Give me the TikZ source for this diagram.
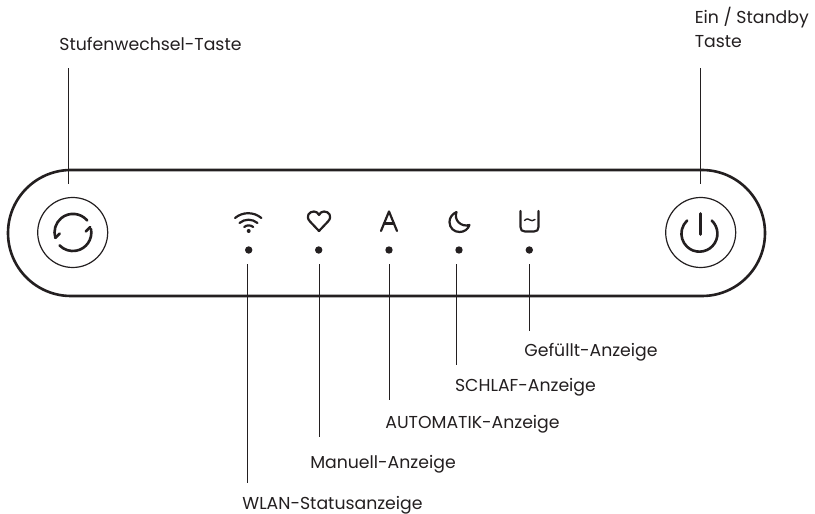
\documentclass[tikz,border=0pt]{standalone}
\usepackage{fontspec}
\usetikzlibrary{calc}
\setmainfont{Poppins}
\definecolor{ink}{HTML}{231F20}
\begin{document}
\begin{tikzpicture}[
  x=0.25mm, y=-0.25mm,
  color=ink,
  line cap=butt, line join=round,
  panel/.style={line width=0.65mm},
  ring/.style={line width=0.3mm},
  leader/.style={line width=0.25mm},
  icon/.style={line width=0.65mm, line cap=round},
  thinicon/.style={line width=0.55mm, line cap=round},
  led/.style={circle, fill=ink, inner sep=0pt, minimum size=1.85mm},
  every node/.style={inner sep=0pt, text=ink, font=\fontsize{12.3pt}{14pt}\selectfont}
]
  \useasboundingbox (0,0) rectangle (815,514);
  % ---- panel ----
  \draw[panel] (71,170) -- (702,170) arc[start angle=-90, end angle=90, radius=63]
    -- (71,296) arc[start angle=90, end angle=270, radius=63] -- cycle;
  % ---- buttons ----
  \coordinate (cycle) at (72.7,232.5);
  \coordinate (power) at (700.7,232.5);
  \draw[ring] (cycle) circle[radius=35];
  \draw[ring] (power) circle[radius=35];
  % ---- cycle symbol ----
  \draw[icon] ($(cycle)+(14.5,-12)$) arc[start angle=-40, end angle=-197, radius=18.5];
  \draw[icon] ($(cycle)+(18.3,-3.5)$) arc[start angle=-11, end angle=136, radius=18.5];
  \draw[icon] ($(cycle)+(-17.5,5.5)$) -- ($(cycle)+(-13,1)$);
  \draw[icon] ($(cycle)+(17.5,-5.5)$) -- ($(cycle)+(13,-1)$);
  % ---- power symbol ----
  \draw[icon] ($(power)+(11,-12)$) arc[start angle=-47, end angle=227, radius=18];
  \draw[icon] (700.7,213.5) -- (700.7,234.5);
  % ---- wifi symbol ----
  \draw[thinicon] (235,218) arc[start angle=-130, end angle=-50, radius=20.5];
  \draw[thinicon] (239.5,223) arc[start angle=-130, end angle=-50, radius=14];
  \draw[thinicon] (244.2,227) arc[start angle=-130, end angle=-50, radius=7];
  \fill (248.7,231) circle[radius=2];
  % ---- heart symbol ----
  \draw[thinicon] (319,231) -- (310,221.5) .. controls (305,216) and (309.5,211.5) .. (314,211.5)
    .. controls (316.5,211.5) and (318,213) .. (319,215)
    .. controls (320,213) and (321.5,211.5) .. (324,211.5)
    .. controls (328.5,211.5) and (333,216) .. (328,221.5) -- cycle;
  % ---- automatic symbol ----
  \draw[thinicon] (381,231) -- (389,211.5) -- (397,231);
  \draw[thinicon] (384,223.5) -- (394,223.5);
  % ---- moon symbol ----
  \draw[thinicon] (456.5,212) .. controls (452,214) and (449.5,218) .. (449.5,222)
    .. controls (449.5,228) and (454,232) .. (459.5,232)
    .. controls (464,232) and (468,229.5) .. (469.5,225)
    .. controls (461,227.5) and (453.5,220) .. (456.5,212) -- cycle;
  % ---- water symbol ----
  \draw[thinicon] (520.5,211) -- (520.5,227) .. controls (520.5,230) and (522,231.5) .. (525,231.5)
    -- (534,231.5) .. controls (537,231.5) and (538.5,230) .. (538.5,227) -- (538.5,211);
  \draw[line width=0.35mm, line cap=round] (524.5,220.5) .. controls (527,218) and (529,219) .. (530,220)
    .. controls (531,221) and (533,221) .. (535,219.5);
  % ---- indicator lights ----
  \node[led] (ledwlan)  at (248.7,250) {};
  \node[led] (ledman)   at (318.7,250) {};
  \node[led] (ledauto)  at (389.0,250) {};
  \node[led] (ledsleep) at (459.0,250) {};
  \node[led] (ledfull)  at (529.3,250) {};
  % ---- labels ----
  \node (lblcycle) at (150.5,43.5) {Stufenwechsel-Taste};
  \node[anchor=west] (lblpower) at (694.5,17.5) {Ein / Standby};
  \node[anchor=west] (lbltaste) at (694.5,42) {Taste};
  \node (lblwlan)  at (332.5,505) {WLAN-Statusanzeige};
  \node (lblman)   at (383,464) {Manuell-Anzeige};
  \node (lblauto)  at (472.5,424) {AUTOMATIK-Anzeige};
  \node (lblsleep) at (525.5,387) {SCHLAF-Anzeige};
  \node (lblfull)  at (591,352) {Gefüllt-Anzeige};
  % ---- leader lines ----
  \coordinate (cycletop) at (68.5,68.5);
  \coordinate (cycleend) at (68.5,184);
  \coordinate (powertop) at (700.7,68.5);
  \coordinate (powerend) at (700.7,184);
  \coordinate (wlantop)  at (247.7,264.5);
  \coordinate (wlanend)  at (247.7,483);
  \coordinate (mantop)   at (319,264.5);
  \coordinate (manend)   at (319,436.7);
  \coordinate (autotop)  at (389,264.5);
  \coordinate (autoend)  at (389,400);
  \coordinate (sleeptop) at (456.5,264.5);
  \coordinate (sleepend) at (456.5,365);
  \coordinate (fulltop)  at (529.7,264.5);
  \coordinate (fullend)  at (529.7,331);
  \draw[leader] (cycletop) -- (cycleend);
  \draw[leader] (powertop) -- (powerend);
  \draw[leader] (wlantop) -- (wlanend);
  \draw[leader] (mantop) -- (manend);
  \draw[leader] (autotop) -- (autoend);
  \draw[leader] (sleeptop) -- (sleepend);
  \draw[leader] (fulltop) -- (fullend);
\end{tikzpicture}
\end{document}
